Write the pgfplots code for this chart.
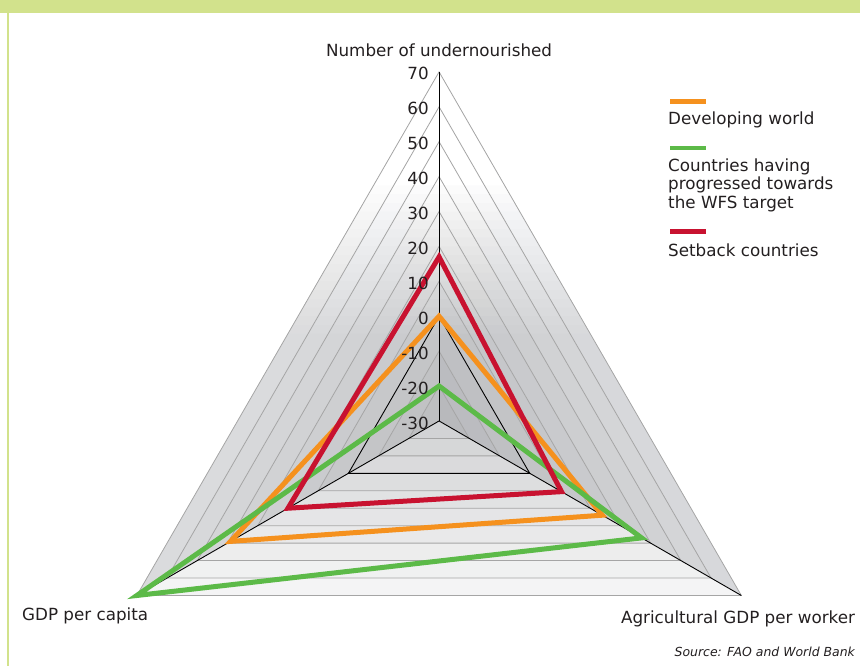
\documentclass[border=0pt]{standalone}
\usepackage{fontspec}
\setmainfont{DejaVu Sans}
\usepackage{pgfplots}
\pgfplotsset{compat=1.18}
\usepackage{pgfplotstable}

\definecolor{cOrange}{RGB}{245,145,30}
\definecolor{cGreen}{RGB}{92,186,72}
\definecolor{cRed}{RGB}{200,18,48}
\definecolor{frameGreen}{RGB}{210,226,140}
\definecolor{gridGray}{RGB}{165,165,165}
\definecolor{txt}{RGB}{35,31,32}
\definecolor{leftLight}{RGB}{221,222,224}
\definecolor{leftDark}{RGB}{190,191,193}
\definecolor{rightLight}{RGB}{219,220,222}
\definecolor{rightDark}{RGB}{184,185,188}
\definecolor{baseLight}{RGB}{248,248,248}
\definecolor{baseDark}{RGB}{210,211,213}

% one row per spoke: angle of the spoke (deg), value
\pgfplotstableread{
ang val
90  0
210 39
330 24
}\developing
\pgfplotstableread{
ang val
90  -20
210 70
330 37
}\progressed
\pgfplotstableread{
ang val
90  17
210 20
330 10.5
}\setback

\begin{document}
\begin{tikzpicture}[font=\fontsize{16.8}{18.5}\selectfont, text=txt]
\begin{axis}[
    at={(0,0)}, anchor=south west,
    width=860bp, height=666bp, scale only axis,
    xmin=-125.8, xmax=120.6, ymin=-70.2, ymax=120.6,
    axis lines=none, clip=false,
    spoke/.style={/pgfplots/table/x expr={(\thisrow{val}+30)*cos(\thisrow{ang})},
                  /pgfplots/table/y expr={(\thisrow{val}+30)*sin(\thisrow{ang})}},
    every axis plot/.append style={line width=5bp, line join=miter},
]
    % banded faces of the radar, darker towards the centre
    \pgfplotsinvokeforeach{0,10,...,90}{
        \fill[leftLight!#1!leftDark]
            (axis cs:0,#1) -- (axis cs:0,{#1+10})
            -- (axis cs:{-0.866*(#1+10)},{-0.5*(#1+10)})
            -- (axis cs:{-0.866*#1},{-0.5*#1}) -- cycle;
        \fill[rightLight!#1!rightDark]
            (axis cs:0,#1) -- (axis cs:0,{#1+10})
            -- (axis cs:{0.866*(#1+10)},{-0.5*(#1+10)})
            -- (axis cs:{0.866*#1},{-0.5*#1}) -- cycle;
        \fill[baseLight!#1!baseDark]
            (axis cs:{-0.866*#1},{-0.5*#1}) -- (axis cs:{-0.866*(#1+10)},{-0.5*(#1+10)})
            -- (axis cs:{0.866*(#1+10)},{-0.5*(#1+10)})
            -- (axis cs:{0.866*#1},{-0.5*#1}) -- cycle;
    }
    % white towards the top: stacked layers give a linear ramp
    \pgfplotsinvokeforeach{25,27.5,...,67.5}{
        \fill[white, opacity={1/(18-(#1-25)/2.5)}]
            (axis cs:0,100) -- (axis cs:{-0.5774*(100-#1)},#1)
            -- (axis cs:{0.5774*(100-#1)},#1) -- cycle;
    }

    % grid triangles
    \pgfplotsinvokeforeach{10,20,40,50,60,70,80,90,100}{
        \draw[gridGray, line width=0.8bp]
            (axis cs:0,#1) -- (axis cs:{-0.866*#1},{-0.5*#1})
            -- (axis cs:{0.866*#1},{-0.5*#1}) -- cycle;
    }
    \draw[black, line width=0.9bp]
        (axis cs:0,30) -- (axis cs:-25.98,-15) -- (axis cs:25.98,-15) -- cycle;
    % spokes
    \draw[black, line width=0.9bp] (axis cs:0,0) -- (axis cs:0,100);
    \draw[black, line width=0.9bp] (axis cs:0,0) -- (axis cs:-86.6,-50);
    \draw[black, line width=0.9bp] (axis cs:0,0) -- (axis cs:86.6,-50);

    \addplot[cOrange] table[spoke] {\developing} -- cycle;
    \addplot[cGreen]  table[spoke] {\progressed} -- cycle;
    \addplot[cRed]    table[spoke] {\setback} -- cycle;

    % values on the vertical spoke
    \pgfplotsinvokeforeach{-30,-20,-10,0,10,20,30,40,50,60,70}{
        \node[anchor=east, inner sep=0pt, yshift=-2bp] at (axis cs:-2.9,{#1+30}) {#1};
    }

    % spoke names
    \node[anchor=base, inner sep=0pt] at (axis cs:0,104.3) {Number of undernourished};
    \node[anchor=base west, inner sep=0pt] at (axis cs:-119.5,-57.3) {GDP per capita};
    \node[anchor=base east, inner sep=0pt] at (axis cs:119.2,-57.9) {Agricultural GDP per worker};
    \node[anchor=base east, inner sep=0pt, font=\fontsize{12.5}{14}\selectfont\itshape]
        at (axis cs:119.2,-67.6) {Source: FAO and World Bank};

    % legend
    \draw[cOrange, line width=4.7bp] (axis cs:66.2,91.5) -- (axis cs:76.5,91.5);
    \node[anchor=west, inner sep=0pt] at (axis cs:65.6,86.2) {Developing world};
    \draw[cGreen, line width=4.7bp] (axis cs:66.2,78.2) -- (axis cs:76.5,78.2);
    \node[anchor=west, inner sep=0pt, align=left] at (axis cs:65.6,67.6)
        {Countries having\\progressed towards\\the WFS target};
    \draw[cRed, line width=4.7bp] (axis cs:66.2,54.2) -- (axis cs:76.5,54.2);
    \node[anchor=west, inner sep=0pt] at (axis cs:65.6,49.0) {Setback countries};
\end{axis}
% frame of the surrounding box
\fill[frameGreen] ([yshift=-13bp]current axis.north west) rectangle (current axis.north east);
\draw[frameGreen, line width=2.5bp] ([xshift=8bp,yshift=-13bp]current axis.north west)
    -- ([xshift=8bp]current axis.south west);
\pgfresetboundingbox
\path[use as bounding box] (current axis.south west) rectangle (current axis.north east);
\end{tikzpicture}
\end{document}
